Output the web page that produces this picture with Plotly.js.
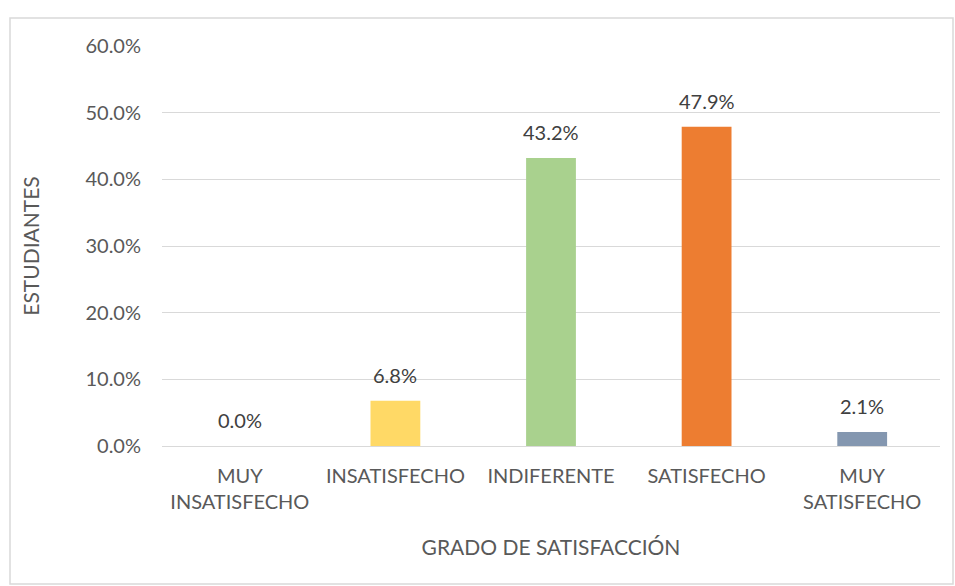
<!DOCTYPE html>
<html>
<head>
<meta charset="utf-8">
<script src="https://cdn.plot.ly/plotly-3.0.1.min.js"></script>
<style>
  html, body { margin: 0; padding: 0; background: #ffffff; }
  #chart { width: 955px; height: 586px; }
</style>
</head>
<body>
<div id="chart"></div>
<script>
const categories = ["MUY<br>INSATISFECHO", "INSATISFECHO", "INDIFERENTE", "SATISFECHO", "MUY<br>SATISFECHO"];
const values = [0.0, 0.068, 0.432, 0.479, 0.021];
const barColors = ["#5B9BD5", "#FFD966", "#A9D18E", "#ED7D31", "#8497B0"];
const yTickValues = [0, 0.1, 0.2, 0.3, 0.4, 0.5, 0.6];
const xTitle = "GRADO DE SATISFACCIÓN";
const yTitle = "ESTUDIANTES";

const FONT = "Lato, 'Open Sans', sans-serif";

const trace = {
  type: "bar",
  x: categories,
  y: values,
  marker: { color: barColors },
  cliponaxis: false,
  hoverinfo: "x+y"
};

const labelAnnotations = categories.map((c, i) => ({
  x: c,
  y: values[i],
  xref: "x",
  yref: "y",
  text: (values[i] * 100).toFixed(1) + "%",
  showarrow: false,
  yanchor: "bottom",
  yshift: 12,
  font: { family: FONT, size: 20, color: "#404040" }
}));

const layout = {
  width: 955,
  height: 586,
  margin: { l: 162, r: 15, t: 46, b: 140 },
  paper_bgcolor: "#ffffff",
  plot_bgcolor: "#ffffff",
  bargap: 0.68,
  showlegend: false,
  font: { family: FONT, size: 20, color: "#595959" },
  xaxis: {
    type: "category",
    showgrid: false,
    showline: true,
    linecolor: "#d9d9d9",
    linewidth: 1,
    ticks: "",
    ticklabelstandoff: 12,
    tickfont: { family: FONT, size: 20, color: "#595959" },
    automargin: false,
    title: { text: xTitle, font: { family: FONT, size: 21, color: "#595959" }, standoff: 28 }
  },
  yaxis: {
    range: [0, 0.6],
    tickvals: yTickValues,
    tickformat: ".1%",
    showgrid: true,
    gridcolor: "#d9d9d9",
    gridwidth: 1,
    zeroline: true,
    zerolinecolor: "#d9d9d9",
    showline: false,
    ticks: "",
    ticklabelstandoff: 20,
    tickfont: { family: FONT, size: 20, color: "#595959" },
    automargin: false,
    title: { text: yTitle, font: { family: FONT, size: 21, color: "#595959" }, standoff: 40 }
  },
  annotations: labelAnnotations,
  shapes: [{
    type: "rect",
    xref: "paper", yref: "paper",
    x0: (10 - 162) / 778, x1: (953 - 162) / 778,
    y0: (586 - 584 - 140) / 400, y1: (586 - 18 - 140) / 400,
    line: { color: "#d9d9d9", width: 1.5 },
    fillcolor: "rgba(0,0,0,0)",
    layer: "below"
  }]
};

Plotly.newPlot("chart", [trace], layout, { displayModeBar: false, staticPlot: true });
</script>
</body>
</html>
